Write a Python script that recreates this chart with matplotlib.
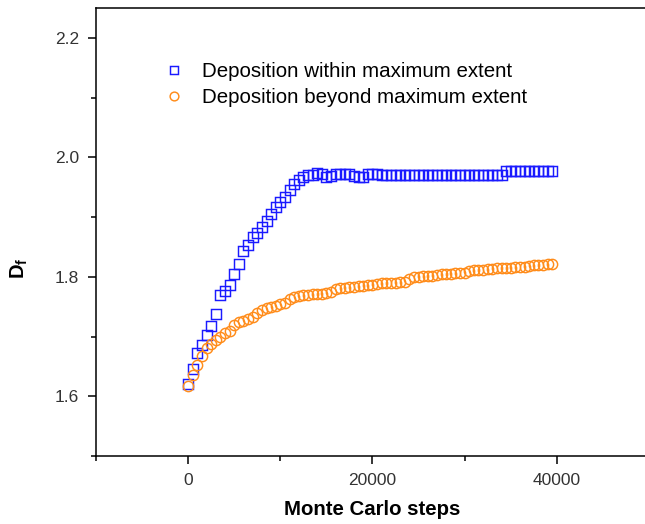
import numpy as np
import matplotlib
matplotlib.use("Agg")
import matplotlib.pyplot as plt
from matplotlib.ticker import MultipleLocator

plt.rcParams['font.family'] = ['Liberation Sans', 'DejaVu Sans']
plt.rcParams['mathtext.fontset'] = 'custom'
plt.rcParams['mathtext.rm'] = 'Liberation Sans'
plt.rcParams['mathtext.bf'] = 'Liberation Sans:bold'

# Monte Carlo steps (every 500 steps)
steps = list(range(0, 40000, 500))

within = [1.620, 1.645, 1.672, 1.685, 1.702, 1.717, 1.738, 1.769, 1.777, 1.786,
          1.805, 1.822, 1.844, 1.853, 1.866, 1.874, 1.883, 1.894, 1.905, 1.917,
          1.926, 1.934, 1.945, 1.955, 1.962, 1.967, 1.970, 1.971, 1.973, 1.972,
          1.967, 1.968, 1.972, 1.972, 1.972, 1.972, 1.968, 1.967, 1.967, 1.972,
          1.972, 1.972, 1.971, 1.971, 1.971, 1.971, 1.971, 1.971, 1.971, 1.971,
          1.971, 1.971, 1.971, 1.971, 1.971, 1.971, 1.971, 1.971, 1.971, 1.971,
          1.971, 1.971, 1.971, 1.971, 1.971, 1.971, 1.971, 1.971, 1.971, 1.977,
          1.977, 1.977, 1.977, 1.977, 1.977, 1.977, 1.977, 1.977, 1.977, 1.977]

beyond = [1.617, 1.635, 1.652, 1.668, 1.680, 1.688, 1.694, 1.700, 1.706, 1.710,
          1.720, 1.724, 1.726, 1.729, 1.733, 1.740, 1.744, 1.747, 1.749, 1.751,
          1.754, 1.756, 1.762, 1.766, 1.768, 1.769, 1.770, 1.771, 1.772, 1.772,
          1.773, 1.775, 1.779, 1.781, 1.782, 1.783, 1.783, 1.784, 1.785, 1.786,
          1.786, 1.788, 1.789, 1.789, 1.790, 1.790, 1.791, 1.792, 1.796, 1.799,
          1.800, 1.801, 1.801, 1.802, 1.803, 1.804, 1.804, 1.805, 1.806, 1.806,
          1.807, 1.809, 1.811, 1.812, 1.812, 1.813, 1.813, 1.814, 1.814, 1.815,
          1.815, 1.816, 1.816, 1.817, 1.818, 1.819, 1.820, 1.820, 1.821, 1.821]

labels = ['Deposition within maximum extent', 'Deposition beyond maximum extent']

fig = plt.figure(figsize=(6.45, 5.24), dpi=100)
ax = fig.add_axes([96 / 645, 68 / 524, 553 / 645, 448 / 524])

ax.plot(steps, within, linestyle='none', marker='s', markersize=6.8,
        markerfacecolor='none', markeredgecolor='#1a1aff', markeredgewidth=1.05,
        label=labels[0])
ax.plot(steps, beyond, linestyle='none', marker='o', markersize=7.4,
        markerfacecolor='none', markeredgecolor='#ff8c1a', markeredgewidth=1.05,
        label=labels[1])

ax.set_xlim(-10000, 50000)
ax.set_ylim(1.5, 2.25)
ax.xaxis.set_major_locator(MultipleLocator(20000))
ax.xaxis.set_minor_locator(MultipleLocator(10000))
ax.yaxis.set_minor_locator(MultipleLocator(0.1))
ax.set_yticks([1.6, 1.8, 2.0, 2.2])
ax.set_yticklabels(['1.6', '1.8', '2.0', '2.2'])

ax.spines['right'].set_visible(False)
for s in ['left', 'bottom', 'top']:
    ax.spines[s].set_linewidth(1.1)
ax.tick_params(which='major', direction='out', length=6, width=1.1,
               labelsize=12.5, labelcolor='#333333', pad=6)
ax.tick_params(which='minor', direction='out', length=3.5, width=1.1)
ax.tick_params(top=False, right=False, which='both')

ax.set_xlabel('Monte Carlo steps', fontsize=14.7, fontweight='bold', labelpad=9)
ax.set_ylabel(r'$\mathbf{D_f}$', fontsize=14.5)
ax.yaxis.set_label_coords(-0.12, 0.42)

ax.legend(loc='upper left', bbox_to_anchor=(0.0855, 0.92), frameon=False,
          fontsize=14.8, handlelength=1.2, handletextpad=0.75, labelspacing=0.33,
          markerscale=0.85)

fig.savefig('out.png', dpi=100)
